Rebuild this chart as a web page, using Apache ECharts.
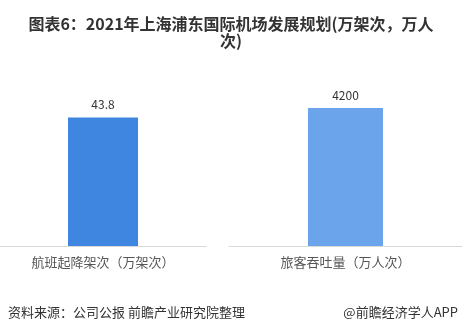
<!DOCTYPE html>
<html><head><meta charset="utf-8">
<script src="https://cdn.jsdelivr.net/npm/echarts@6/dist/echarts.min.js"></script>
<style>html,body{margin:0;padding:0;background:#fff}#c{width:462px;height:334px}</style>
</head><body><div id="c"></div>
<script>
const titleText = "图表6：2021年上海浦东国际机场发展规划(万架次，万人\n次)";
const categoriesLeft = ["航班起降架次（万架次）"];
const categoriesRight = ["旅客吞吐量（万人次）"];
const valuesLeft = [43.8];
const valuesRight = [4200];
const sourceText = "资料来源：公司公报 前瞻产业研究院整理";
const brandText = "@前瞻经济学人APP";

const font = "'Noto Sans CJK SC', sans-serif";
const chart = echarts.init(document.getElementById('c'), null, {renderer:'canvas'});
const labelStyle = {show:true, position:'top', distance:7, color:'#333', fontSize:12, fontFamily:font};
chart.setOption({
  animation:false,
  backgroundColor:'#fff',
  title:{text:titleText, left:'center', top:10, textStyle:{fontSize:16, fontWeight:'bold', color:'#333', fontFamily:font, lineHeight:17}},
  grid:[
    {left:0, width:206, top:70, height:176},
    {left:229, width:233, top:70, height:176}
  ],
  xAxis:[
    {type:'category', gridIndex:0, data:categoriesLeft, axisLine:{lineStyle:{color:'#d9d9d9', width:1}}, axisTick:{show:false}, axisLabel:{color:'#555', fontSize:13, fontFamily:font, margin:10}},
    {type:'category', gridIndex:1, data:categoriesRight, axisLine:{lineStyle:{color:'#d9d9d9', width:1}}, axisTick:{show:false}, axisLabel:{color:'#555', fontSize:13, fontFamily:font, margin:10}}
  ],
  yAxis:[
    {type:'value', gridIndex:0, min:0, max:60, show:false},
    {type:'value', gridIndex:1, min:0, max:5360, show:false}
  ],
  series:[
    {type:'bar', xAxisIndex:0, yAxisIndex:0, data:valuesLeft, barWidth:70, itemStyle:{color:'#3f86e0'}, label:labelStyle},
    {type:'bar', xAxisIndex:1, yAxisIndex:1, data:valuesRight, barWidth:75, itemStyle:{color:'#6ca4ec'}, label:labelStyle}
  ],
  graphic:[
    {type:'text', left:8, top:306, style:{text:sourceText, fontSize:13, fill:'#333', fontFamily:font}},
    {type:'text', right:4, top:306, style:{text:brandText, fontSize:13, fill:'#333', fontFamily:font}}
  ]
});
</script></body></html>
